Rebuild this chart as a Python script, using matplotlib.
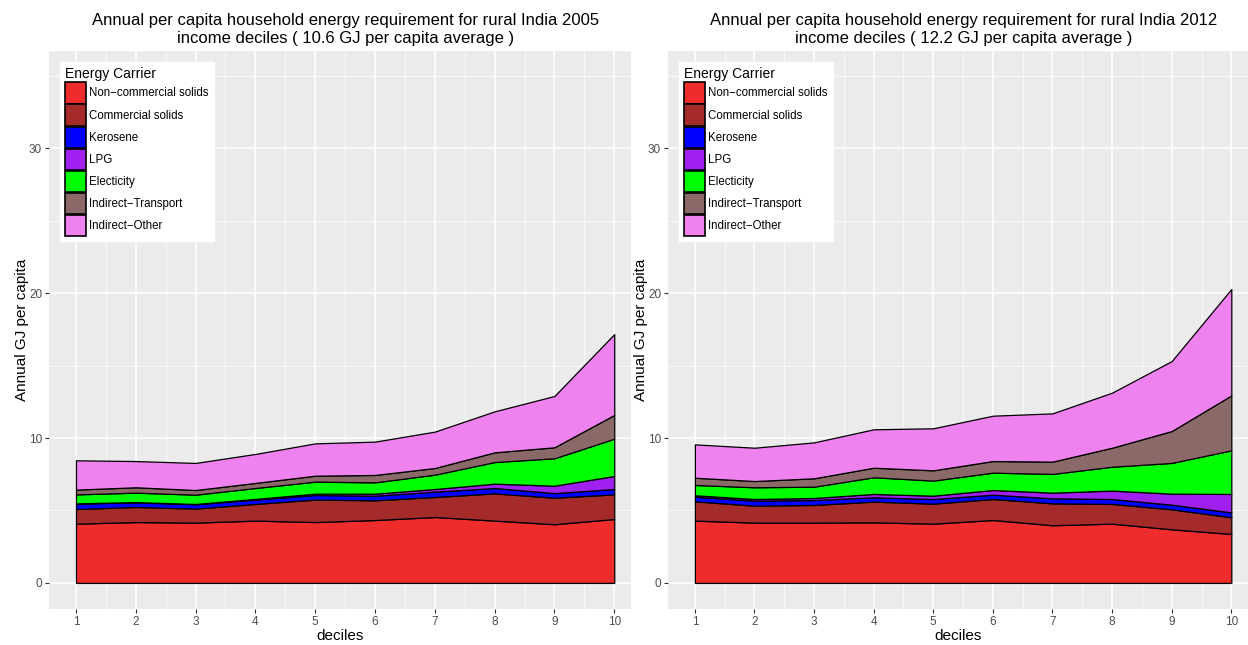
import matplotlib
matplotlib.use("Agg")
import matplotlib.pyplot as plt
from matplotlib.patches import Patch
from matplotlib.ticker import MultipleLocator

plt.rcParams['font.family'] = ['Liberation Sans', 'DejaVu Sans']

deciles = [1, 2, 3, 4, 5, 6, 7, 8, 9, 10]
carriers = ['Non\u2212commercial solids', 'Commercial solids', 'Kerosene', 'LPG',
            'Electicity', 'Indirect\u2212Transport', 'Indirect\u2212Other']
colors = ['#EE2C2C', '#A52A2A', '#0000FF', '#A020F0', '#00FF00', '#8B6969', '#EE82EE']

# 2005, GJ per capita by carrier
noncomm_2005 = [4.09, 4.20, 4.16, 4.30, 4.20, 4.34, 4.55, 4.30, 4.05, 4.41]
comm_2005 = [1.01, 1.04, 0.97, 1.15, 1.55, 1.36, 1.38, 1.88, 1.83, 1.70]
kero_2005 = [0.37, 0.32, 0.30, 0.30, 0.32, 0.32, 0.37, 0.37, 0.32, 0.37]
lpg_2005 = [0.02, 0.02, 0.02, 0.05, 0.09, 0.14, 0.18, 0.30, 0.51, 0.90]
elec_2005 = [0.62, 0.65, 0.64, 0.75, 0.83, 0.78, 0.99, 1.49, 1.89, 2.57]
transport_2005 = [0.33, 0.37, 0.32, 0.35, 0.41, 0.51, 0.46, 0.67, 0.76, 1.64]
other_2005 = [2.02, 1.81, 1.87, 2.00, 2.23, 2.30, 2.51, 2.83, 3.54, 5.58]

# 2012
noncomm_2012 = [4.30, 4.16, 4.16, 4.18, 4.09, 4.34, 3.98, 4.09, 3.70, 3.38]
comm_2012 = [1.33, 1.17, 1.22, 1.43, 1.38, 1.45, 1.51, 1.36, 1.38, 1.15]
kero_2012 = [0.32, 0.35, 0.34, 0.30, 0.32, 0.30, 0.35, 0.34, 0.32, 0.34]
lpg_2012 = [0.10, 0.11, 0.14, 0.23, 0.23, 0.32, 0.39, 0.58, 0.76, 1.27]
elec_2012 = [0.71, 0.81, 0.78, 1.15, 1.04, 1.20, 1.29, 1.65, 2.12, 3.01]
transport_2012 = [0.50, 0.43, 0.58, 0.66, 0.71, 0.80, 0.85, 1.31, 2.20, 3.79]
other_2012 = [2.30, 2.30, 2.48, 2.65, 2.90, 3.13, 3.33, 3.80, 4.83, 7.34]

title_2005 = ('Annual per capita household energy requirement for rural India 2005\n'
              'income deciles ( 10.6 GJ per capita average )')
title_2012 = ('Annual per capita household energy requirement for rural India 2012\n'
              'income deciles ( 12.2 GJ per capita average )')


def panel(ax, series, title):
    ax.set_facecolor('#EBEBEB')
    ax.stackplot(deciles, *series, colors=colors, edgecolor='black', linewidth=0.9, zorder=3)
    ax.set_xlim(0.55, 10.28)
    ax.set_ylim(-1.8, 36.7)
    ax.xaxis.set_major_locator(MultipleLocator(1))
    ax.xaxis.set_minor_locator(MultipleLocator(0.5))
    ax.yaxis.set_major_locator(MultipleLocator(10))
    ax.yaxis.set_minor_locator(MultipleLocator(5))
    ax.grid(which='major', color='white', linewidth=1.1, zorder=0)
    ax.grid(which='minor', color='white', linewidth=0.5, zorder=0)
    ax.set_axisbelow(True)
    for s in ax.spines.values():
        s.set_visible(False)
    ax.tick_params(which='major', length=3, color='#333333', labelsize=8.5,
                   labelcolor='#4D4D4D', pad=2)
    ax.tick_params(which='minor', length=0)
    ax.set_xlabel('deciles', fontsize=11, labelpad=1)
    ax.set_ylabel('Annual GJ per capita', fontsize=11, labelpad=0)
    ax.set_title(title, fontsize=12, x=0.51, pad=6, linespacing=1.2)

    handles = [Patch(facecolor=c, edgecolor='black', linewidth=1.2) for c in colors]
    leg = ax.legend(handles, carriers, title='Energy Carrier', loc='upper left',
                    bbox_to_anchor=(0.019, 0.98), borderaxespad=0,
                    fontsize=8.3, title_fontsize=10,
                    handlelength=1.8, handleheight=2.45, labelspacing=0.08,
                    handletextpad=0.3, borderpad=0.45, fancybox=False,
                    framealpha=1, edgecolor='white', alignment='left')
    leg.set_zorder(5)


fig = plt.figure(figsize=(12.48, 6.45), dpi=100)
ax1 = fig.add_axes([0.0393, 0.0558, 0.4663, 0.865])
ax2 = fig.add_axes([0.5353, 0.0558, 0.4647, 0.865])

panel(ax1, [noncomm_2005, comm_2005, kero_2005, lpg_2005, elec_2005,
            transport_2005, other_2005], title_2005)
panel(ax2, [noncomm_2012, comm_2012, kero_2012, lpg_2012, elec_2012,
            transport_2012, other_2012], title_2012)

fig.savefig('out.png', dpi=100)
